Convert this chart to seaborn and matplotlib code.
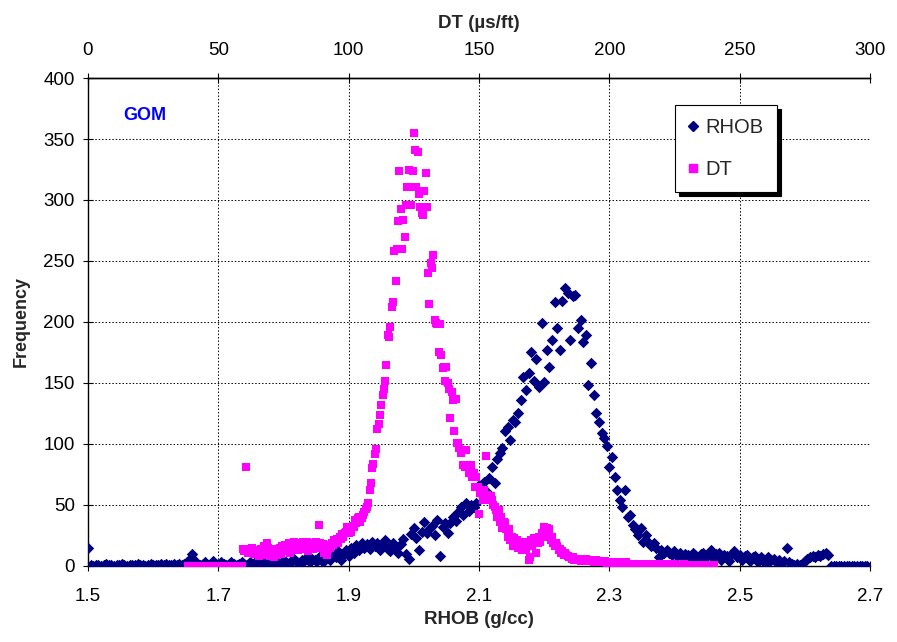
import numpy as np
import pandas as pd
import matplotlib
matplotlib.use("Agg")
import matplotlib.pyplot as plt
from matplotlib.lines import Line2D
import seaborn as sns

# ---------------- data ----------------
# RHOB histogram (g/cc), bin step 0.004, given as segments with their start
rhob_step = 0.004
rhob_start_a = 1.500
rhob_freq_a = [15, 1, 0, 1, 1, 0, 1, 2, 1, 1, 0, 1, 1, 2, 1, 0, 1, 1, 1, 2,
               1, 1, 0, 1, 2, 1, 1, 1, 2, 1, 2, 1, 1, 2, 1, 2, 1, 2, 3]
rhob_start_b = 1.656
rhob_freq_b = [6, 10, 4, 2, 1, 2, 3, 1, 2, 4, 2, 1, 3, 2, 1, 2, 3, 2, 1, 2, 3, 2, 1, 3]
rhob_start_c = 1.752
rhob_freq_c = [2, 3, 1, 4, 2, 3, 5, 2, 1, 3, 4, 2, 5, 3, 2, 4, 6, 3, 2, 5, 4, 7, 3, 6, 5]
rhob_start_d = 1.852
rhob_freq_d = [4, 8, 3, 6, 9, 5, 10, 7, 12, 5, 9, 13, 8, 15, 11, 17, 13, 19, 15, 18,
               14, 20, 16, 19, 13]
rhob_start_e = 1.952
rhob_freq_e = [18, 21, 14, 12, 19, 15, 11, 18, 22, 10, 6, 26, 31, 23, 13, 28, 36, 27, 30, 33,
               25, 38, 8, 32, 35, 27, 35, 40, 37, 44, 48, 42, 52, 45, 50, 48, 52, 66, 58, 69,
               61, 72, 81, 68, 88, 93, 97, 111, 114, 103, 120, 118, 125, 136, 155, 144, 158, 175, 152, 170,
               147, 199, 151, 177, 163, 185, 216, 195, 177, 217, 228, 224, 185, 221, 222, 195, 202, 184, 189, 148,
               166, 140, 125, 118, 109, 105, 98, 81, 89, 73, 62, 54, 48, 62, 40, 42, 34, 30, 25, 31,
               20, 25, 20, 16, 19, 15, 7, 13, 11, 13, 11, 9, 12, 8, 11, 7, 10, 9, 6, 11,
               9, 5, 10, 11, 7, 9, 13, 6, 10, 11, 5, 9, 8, 4, 10, 12, 7, 9, 5, 8,
               9, 4, 7, 8, 3, 7, 6, 2, 7, 5, 6, 3, 5, 2, 4, 15, 3, 2, 1, 2,
               1, 2, 4, 6, 7, 8, 7, 9, 8, 10, 11, 9, 0, 0, 0, 0, 0, 0, 0, 0,
               0, 0, 0, 0, 0, 0, 0]

# DT histogram (us/ft), bin step 0.5
dt_step = 0.5
dt_start_a = 38.5
dt_freq_a = [0] * 42
dt_start_b = 59.5
dt_freq_b = [14, 12, 81, 13, 11, 14, 12, 15, 10, 13, 12, 13, 8, 11, 14, 9, 16, 12, 19, 15,
             12, 8, 14, 11, 7, 13, 9, 12, 15, 10, 16, 13, 17, 12, 16, 19, 11, 17, 14, 20,
             15, 18, 13, 17, 19, 15, 20, 14, 18, 20, 12, 17, 15, 19, 14, 17, 20, 16, 34, 19,
             15, 18, 11, 16, 9, 14, 17, 15, 19, 17, 21]
dt_start_c = 95.0
dt_freq_c = [20, 22, 19, 24, 22, 26, 24, 27, 28, 32, 27, 30, 28, 33, 32, 38, 35, 39, 40, 36,
             39, 42, 44, 47, 48, 52,
             62, 68, 80, 84, 92, 96, 112, 116, 124, 132,
             140, 145, 152, 165, 189, 188, 196, 212, 216, 258,
             234, 260, 283, 324, 293, 260, 284, 270, 296, 311,
             325, 311, 296, 324, 355, 341, 311, 339, 305, 294,
             289, 288, 307, 322, 294, 240, 215, 248, 244, 255,
             202, 199, 198, 175]
dt_start_d = 135.0
dt_freq_d = [198, 173, 162, 163, 152, 163, 150, 145, 121, 143,
             136, 111, 137, 101, 101, 97, 93, 95, 83, 81,
             95, 83, 76, 81, 83, 73, 76, 65, 73, 65,
             43, 60, 62, 54, 62, 90, 58, 57, 54, 57,
             54, 50, 48, 46, 40, 46, 36, 40, 31, 36,
             35, 30, 24, 30, 21, 24, 16, 23, 19, 21,
             15, 16, 19,
             13, 20, 15, 13, 20, 5, 7, 21, 16, 23,
             20, 11, 19, 24, 20, 27, 24, 32, 30, 31,
             27, 30, 21, 24, 19, 16, 19, 16, 13, 14,
             11, 12, 9, 11, 9, 8, 7, 7, 6, 7,
             5, 6, 5]
dt_start_e = 188.0
dt_freq_e = [5, 6, 4, 5, 5, 4, 6, 5, 4, 5, 4, 5, 3, 4, 5, 4, 4,
             3, 4, 3, 3, 4, 2, 3, 3, 2, 3, 3, 2, 3, 2, 3, 2, 2, 3,
             2, 2, 3, 2, 2, 1, 2, 2, 2, 1, 2, 2, 1, 2, 2, 1, 2, 1, 2, 1,
             1, 2, 1, 1, 2, 1, 1, 1, 2, 1, 1, 1, 1, 2, 1, 1, 1, 1, 1, 2,
             1, 1, 1, 1, 1, 1, 2, 1, 1, 1, 1, 1, 1, 1, 1, 1, 1, 1, 1, 1,
             1, 1, 1, 1, 1, 1, 1, 1, 1, 1]

rhob_ticks = [1.5, 1.7, 1.9, 2.1, 2.3, 2.5, 2.7]
dt_ticks = [0, 50, 100, 150, 200, 250, 300]
freq_ticks = [0, 50, 100, 150, 200, 250, 300, 350, 400]


def build(segments, step, name):
    xs, ys = [], []
    for start, vals in segments:
        xs.append(start + step * np.arange(len(vals)))
        ys.append(np.asarray(vals, dtype=float))
    return pd.DataFrame({name: np.concatenate(xs), "Frequency": np.concatenate(ys)})


rhob_df = build([(rhob_start_a, rhob_freq_a), (rhob_start_b, rhob_freq_b),
                 (rhob_start_c, rhob_freq_c), (rhob_start_d, rhob_freq_d),
                 (rhob_start_e, rhob_freq_e)], rhob_step, "RHOB")
dt_df = build([(dt_start_a, dt_freq_a), (dt_start_b, dt_freq_b), (dt_start_c, dt_freq_c),
               (dt_start_d, dt_freq_d), (dt_start_e, dt_freq_e)], dt_step, "DT")

# ---------------- style ----------------
sns.set_style("white")
plt.rcParams["font.family"] = ["Liberation Sans", "DejaVu Sans"]

NAVY = "#000080"
MAGENTA = "#FF00FF"

fig = plt.figure(figsize=(8.97, 6.42), dpi=100)
ax = fig.add_axes([0.0981, 0.1184, 0.8718, 0.7601])
ax2 = ax.twiny()

sns.scatterplot(data=rhob_df, x="RHOB", y="Frequency", ax=ax, marker="D",
                color=NAVY, s=34, linewidth=0, legend=False, zorder=3)
sns.scatterplot(data=dt_df, x="DT", y="Frequency", ax=ax2, marker="s",
                color=MAGENTA, s=40, linewidth=0, legend=False, zorder=3)

ax.set_xlim(1.5, 2.7)
ax.set_ylim(0, 400)
ax2.set_xlim(0, 300)
ax2.set_ylim(0, 400)

ax.set_xticks(rhob_ticks)
ax.set_xticklabels([f"{t:.1f}" for t in rhob_ticks])
ax.set_yticks(freq_ticks)
ax2.set_xticks(dt_ticks)

ax.grid(True, color="black", linestyle=(0, (1.5, 2)), linewidth=0.7)
ax.set_axisbelow(True)
ax2.grid(False)

for sp in ["left", "bottom", "top"]:
    ax.spines[sp].set_color("black")
    ax.spines[sp].set_linewidth(1.0)
ax.spines["right"].set_visible(False)
for sp in ["left", "bottom", "right"]:
    ax2.spines[sp].set_visible(False)
ax2.spines["top"].set_color("black")
ax2.spines["top"].set_linewidth(1.0)

ax.tick_params(axis="x", direction="inout", length=7, width=0.8, labelsize=13.5, pad=12,
               bottom=True, colors="black")
ax.tick_params(axis="y", direction="inout", length=7, width=0.8, labelsize=13.5, pad=6,
               left=True, colors="black")
ax2.tick_params(axis="x", direction="inout", length=7, width=0.8, labelsize=13.5, pad=10,
                top=True, colors="black")

ax.set_xlabel("RHOB (g/cc)", fontsize=13.5, fontweight="bold", labelpad=5)
ax.set_ylabel("Frequency", fontsize=13, fontweight="bold", labelpad=10)
ax2.set_xlabel("DT (\u00b5s/ft)", fontsize=13.5, fontweight="bold", labelpad=10)

ax.text(1.587, 369, "GOM", color="#0000FF", fontsize=13, fontweight="bold",
        ha="center", va="center")

handles = [Line2D([], [], marker="D", color=NAVY, linestyle="none", markersize=5),
           Line2D([], [], marker="s", color=MAGENTA, linestyle="none", markersize=5.5)]
leg = ax2.legend(handles, ["RHOB", "DT"], loc="upper left", bbox_to_anchor=(0.751, 0.945),
                 frameon=True, fancybox=False, edgecolor="black", framealpha=1,
                 fontsize=14.5, labelspacing=1.15, borderpad=0.65, handlelength=0.5,
                 handletextpad=0.35, borderaxespad=0,
                 shadow={"ox": 3, "oy": -3, "color": "black", "alpha": 1.0})
leg.get_frame().set_linewidth(0.8)

fig.savefig("out.png", dpi=100)
